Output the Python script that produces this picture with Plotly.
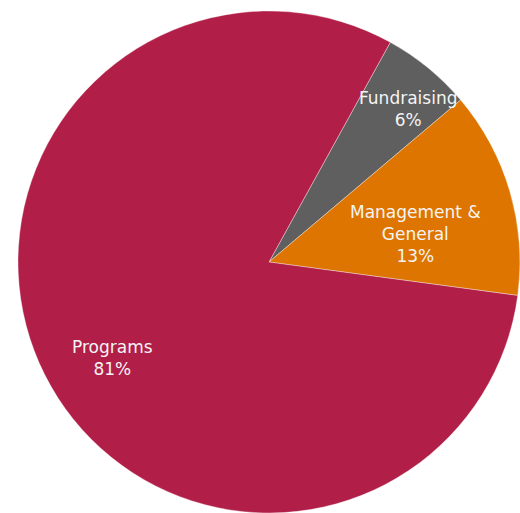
import plotly.graph_objects as go

labels = ["Fundraising", "Management &<br>General", "Programs"]
values = [5.8, 13.3, 80.9]
colors = ["#5F5F5F", "#DE7500", "#B11E48"]
label_pos_x = [0.777, 0.791, 0.189]
label_pos_y = [0.805, 0.556, 0.309]

total = sum(values)
fig = go.Figure(go.Pie(
    labels=labels,
    values=values,
    sort=False,
    direction="clockwise",
    rotation=28.9,
    marker=dict(colors=colors, line=dict(color="rgba(255,255,255,0.6)", width=0.6)),
    textinfo="none",
    hoverinfo="label+percent",
    showlegend=False,
))

for lab, v, x, y in zip(labels, values, label_pos_x, label_pos_y):
    fig.add_annotation(
        x=x, y=y, xref="paper", yref="paper",
        xanchor="center", yanchor="middle",
        text=f"{lab}<br>{round(v / total * 100)}%",
        showarrow=False,
        font=dict(family="DejaVu Sans", size=17, color="#F4F4F4"),
        align="center",
    )

fig.update_layout(
    width=520, height=513,
    margin=dict(l=18, r=0, t=11, b=0),
    paper_bgcolor="white",
    plot_bgcolor="white",
)
fig.write_html(
    "out.html",
    config={"displayModeBar": False},
    post_script="document.body.style.margin='0';document.documentElement.style.overflow='hidden';",
)
